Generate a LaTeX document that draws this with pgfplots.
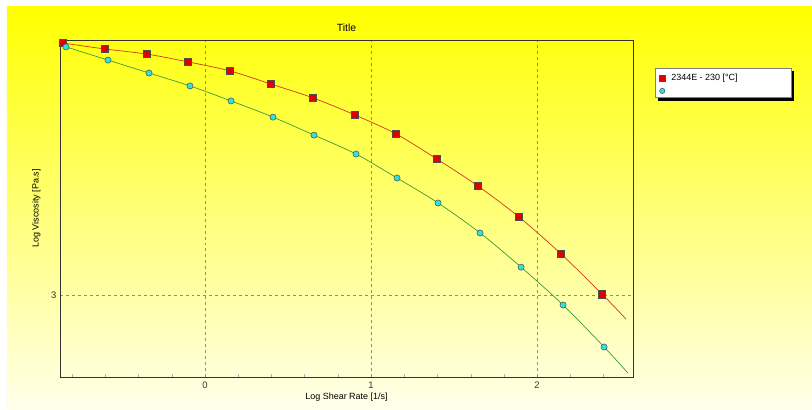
\documentclass[border=0pt]{standalone}
\usepackage{pgfplots}
\pgfplotsset{compat=1.18}
\usepackage{fontspec}
\setmainfont{Liberation Sans}
\usetikzlibrary{shadows}
\definecolor{redline}{HTML}{D03A1A}
\definecolor{greenline}{HTML}{3C9A3C}
\definecolor{redmark}{HTML}{E00000}
\definecolor{cyanmark}{HTML}{30E0E0}
\begin{document}
\begin{tikzpicture}
\fill[white] (-60bp,-33bp) rectangle (752bp,377bp);
\shade[top color={rgb,255:red,255;green,255;blue,0}, bottom color={rgb,255:red,255;green,255;blue,235}] (-53bp,-33bp) rectangle (752bp,370bp);
\begin{axis}[
  at={(0,0)}, anchor=south west,
  scale only axis, width=573bp, height=337bp,
  xmin=-0.873, xmax=2.578, ymin=2.727, ymax=3.85,
  xtick={0,1,2}, ytick={3},
  minor xtick={-0.8,-0.6,-0.4,-0.2,0.2,0.4,0.6,0.8,1.2,1.4,1.6,1.8,2.2,2.4},
  minor tick length=3bp, major tick length=3bp,
  tick align=inside,
  xtick pos=bottom, ytick pos=left,
  xmajorgrids, ymajorgrids,
  major grid style={dashed, black!45, line width=0.6pt},
  major tick style={draw=none},
  minor tick style={gray!60},
  axis line style={black!80, line width=0.8pt},
  tick label style={font=\fontsize{9.5}{11}\selectfont, text=black!80},
  xticklabel style={yshift=-1bp},
  /pgf/number format/assume math mode=true,
  title={Title}, title style={font=\fontsize{10.5}{12}\selectfont, yshift=-1bp},
  xlabel={Log Shear Rate [1/s]}, ylabel={Log Viscosity [Pa.s]},
  label style={font=\fontsize{9}{10}\selectfont},
  xlabel style={yshift=2bp},
  ylabel style={yshift=4bp},
  legend style={at={(axis description cs:1.0384,0.917)}, anchor=north west,
    draw=black!50, fill=white, font=\fontsize{9}{10}\selectfont,
    row sep=4bp, inner sep=4bp,
    drop shadow={shadow xshift=3bp, shadow yshift=-3bp, fill=black, opacity=1}},
  legend image post style={scale=0.85},
  legend cell align=left,
]
\addplot[redline, line width=0.7pt, smooth, forget plot] coordinates {
(-0.855,3.840) (-0.602,3.820) (-0.349,3.803) (-0.102,3.777) (0.151,3.747)
(0.398,3.703) (0.651,3.657) (0.904,3.600) (1.151,3.537) (1.398,3.453)
(1.645,3.363) (1.892,3.260) (2.145,3.137) (2.392,3.003) (2.536,2.920)};
\addplot[greenline, line width=0.7pt, smooth, forget plot] coordinates {
(-0.837,3.827) (-0.584,3.783) (-0.337,3.740) (-0.090,3.697) (0.157,3.647)
(0.410,3.593) (0.657,3.533) (0.910,3.470) (1.157,3.390) (1.404,3.307)
(1.657,3.207) (1.904,3.093) (2.157,2.967) (2.404,2.827) (2.548,2.740)};
\addplot[only marks, mark=square*, mark size=3.6bp, mark options={fill=redmark, draw=black!70, line width=0.5pt}] coordinates {
(-0.855,3.840) (-0.602,3.820) (-0.349,3.803) (-0.102,3.777) (0.151,3.747)
(0.398,3.703) (0.651,3.657) (0.904,3.600) (1.151,3.537) (1.398,3.453)
(1.645,3.363) (1.892,3.260) (2.145,3.137) (2.392,3.003)};
\addlegendentry{\makebox[118bp][l]{\hspace{4bp}2344E - 230 [°C]}}
\addplot[only marks, mark=*, mark size=3.1bp, mark options={fill=cyanmark, draw=black!70, line width=0.5pt}] coordinates {
(-0.837,3.827) (-0.584,3.783) (-0.337,3.740) (-0.090,3.697) (0.157,3.647)
(0.410,3.593) (0.657,3.533) (0.910,3.470) (1.157,3.390) (1.404,3.307)
(1.657,3.207) (1.904,3.093) (2.157,2.967) (2.404,2.827)};
\addlegendentry{}
\end{axis}
\end{tikzpicture}
\end{document}
